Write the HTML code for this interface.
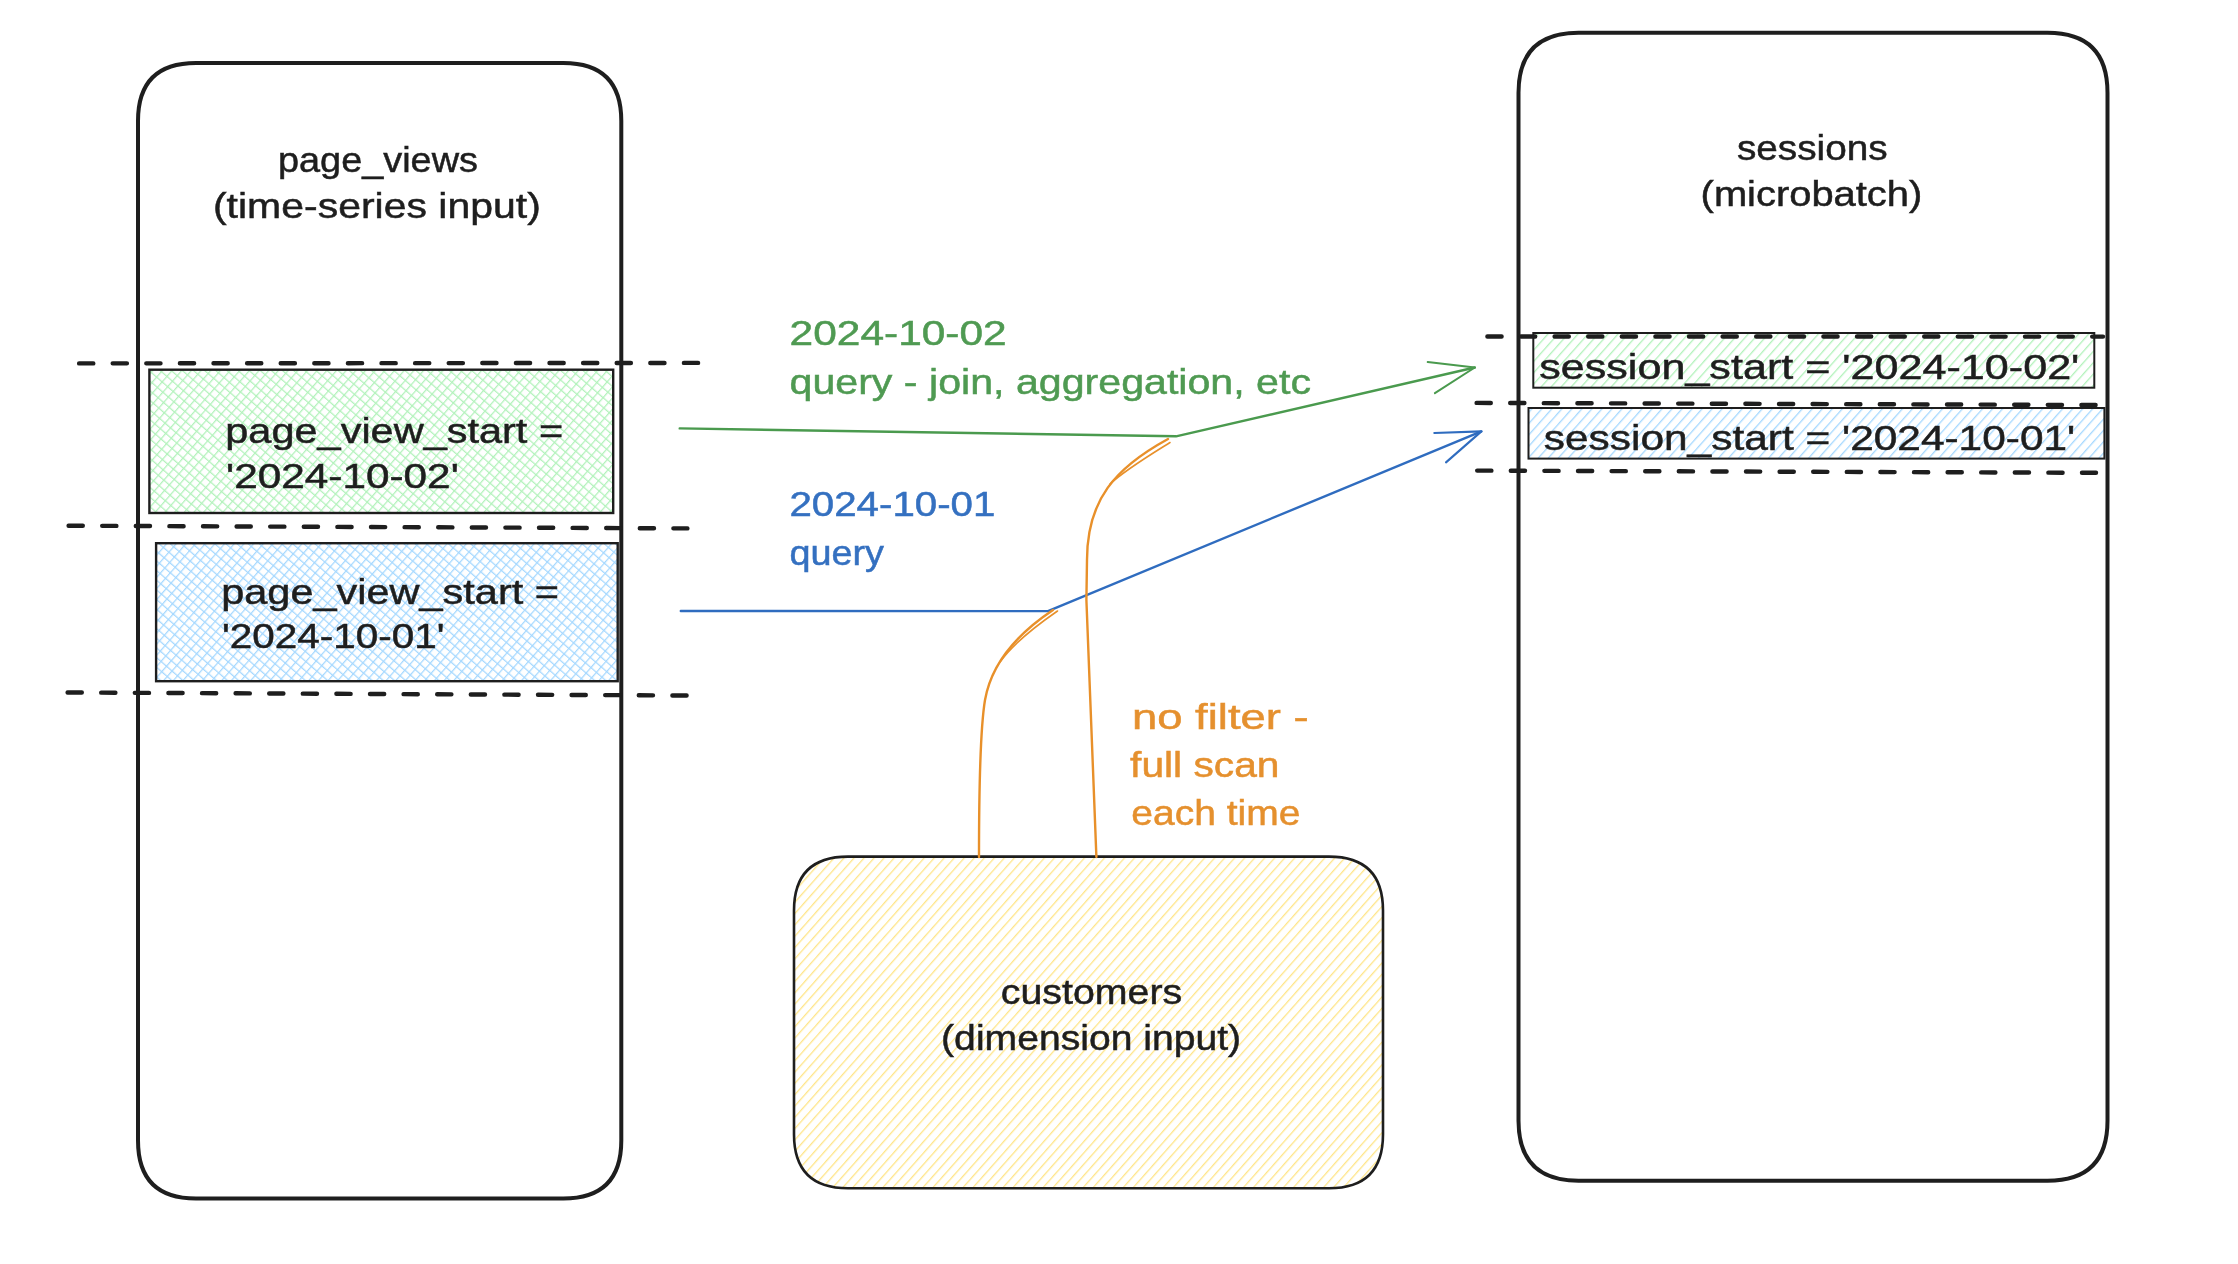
<!DOCTYPE html>
<html><head><meta charset="utf-8">
<style>
html,body{margin:0;padding:0;background:#fff;}
body{width:2238px;height:1264px;overflow:hidden;}
svg{display:block;}
text{font-family:"Liberation Sans",sans-serif;font-size:35.0px;stroke-width:0.5px;}
</style></head>
<body>
<svg width="2238" height="1264" viewBox="0 0 2238 1264">
<defs>
<pattern id="xg" width="7.3" height="7.3" patternUnits="userSpaceOnUse" patternTransform="rotate(-49)">
<rect x="0" y="0" width="7.3" height="1.25" fill="#b2f2bb"/><rect x="0" y="0" width="1.25" height="7.3" fill="#b2f2bb"/>
</pattern>
<pattern id="xb" width="7.3" height="7.3" patternUnits="userSpaceOnUse" patternTransform="rotate(-49)">
<rect x="0" y="0" width="7.3" height="1.25" fill="#a5d8ff"/><rect x="0" y="0" width="1.25" height="7.3" fill="#a5d8ff"/>
</pattern>
<pattern id="hg" width="7.5" height="7.5" patternUnits="userSpaceOnUse" patternTransform="rotate(-48.5)">
<rect x="0" y="0" width="7.5" height="1.3" fill="#b2f2bb"/>
</pattern>
<pattern id="hb" width="7.5" height="7.5" patternUnits="userSpaceOnUse" patternTransform="rotate(-48.5)">
<rect x="0" y="0" width="7.5" height="1.3" fill="#a5d8ff"/>
</pattern>
<pattern id="hy" width="7.5" height="7.5" patternUnits="userSpaceOnUse" patternTransform="rotate(-48.5)">
<rect x="0" y="0" width="7.5" height="1.3" fill="#ffe588"/>
</pattern>
</defs>

<!-- big boxes -->
<path d="M196.0 63.0 L563.3 63.0 Q621.3 63.0 621.3 121.0 L621.3 1140.5 Q621.3 1198.5 563.3 1198.5 L196.0 1198.5 Q138.0 1198.5 138.0 1140.5 L138.0 121.0 Q138.0 63.0 196.0 63.0 Z" fill="none" stroke="#1e1e1e" stroke-width="4"/>
<path d="M1578.5 32.7 L2047.5 32.7 Q2107.5 32.7 2107.5 92.7 L2107.5 1120.7 Q2107.5 1180.7 2047.5 1180.7 L1578.5 1180.7 Q1518.5 1180.7 1518.5 1120.7 L1518.5 92.7 Q1518.5 32.7 1578.5 32.7 Z" fill="none" stroke="#1e1e1e" stroke-width="4"/>
<path d="M848.0 856.6 L1329.0 856.6 Q1383.0 856.6 1383.0 910.6 L1383.0 1134.3 Q1383.0 1188.3 1329.0 1188.3 L848.0 1188.3 Q794.0 1188.3 794.0 1134.3 L794.0 910.6 Q794.0 856.6 848.0 856.6 Z" fill="url(#hy)" stroke="#1e1e1e" stroke-width="2.6"/>

<!-- small boxes -->
<rect x="149.4" y="369.7" width="463.8" height="143.3" fill="url(#xg)" stroke="#1e1e1e" stroke-width="2.4"/>
<rect x="156.1" y="543.2" width="461.6" height="138" fill="url(#xb)" stroke="#1e1e1e" stroke-width="2.4"/>
<rect x="1533.3" y="333" width="561" height="54.7" fill="url(#hg)" stroke="#1e1e1e" stroke-width="2"/>
<rect x="1528.5" y="408" width="575.9" height="50.6" fill="url(#hb)" stroke="#1e1e1e" stroke-width="2"/>

<!-- dashed lines -->
<g fill="none" stroke="#1e1e1e" stroke-width="4.4" stroke-linecap="round" stroke-dasharray="14.2 19.4">
<path d="M79.1 363.4 L698.5 362.9"/>
<path d="M68.6 525.7 L687.4 528.4"/>
<path d="M67.6 692.5 L686.8 695.5"/>
<path d="M1487.4 336.5 L2103 336.6"/>
<path d="M1476.6 402.9 L2096 405"/>
<path d="M1477.2 470.6 L2096 472.8"/>
</g>

<!-- arrows -->
<g fill="none" stroke-linecap="round" stroke-linejoin="round">
<path d="M679.7 428.4 L1176 436.3 L1474.8 367.5" stroke="#4a9a4e" stroke-width="2.4"/>
<path d="M1427.7 362.1 L1474.8 367.5 L1434.9 393.2" stroke="#4a9a4e" stroke-width="2"/>
<path d="M680.8 611 L1048 611.1 L1481.4 431.4" stroke="#2f6cbf" stroke-width="2.4"/>
<path d="M1434.3 433 L1481.4 431.4 L1446 462.4" stroke="#2f6cbf" stroke-width="2.1"/>
<path d="M1053 610 C1020 632 992 660 985 700 C980 730 979 800 979 857" stroke="#e8902a" stroke-width="2.4"/>
<path d="M1168 439 C1115 468 1087 500 1087 560 L1086.4 600 L1096.4 857" stroke="#e8902a" stroke-width="2.4"/>
<path d="M1170 442.5 C1150 455 1125 470 1110 484" stroke="#e8902a" stroke-width="1.6"/>
<path d="M1057.5 611 C1030 630 1010 648 1000 662" stroke="#e8902a" stroke-width="1.6"/>
</g>

<!-- texts -->
<g style="opacity:0.999">
<text transform="translate(278.00 172.20) scale(1.0821 1)" fill="#1e1e1e" stroke="#1e1e1e">page_views</text>
<text transform="translate(212.90 218.20) scale(1.1714 1)" fill="#1e1e1e" stroke="#1e1e1e">(time-series input)</text>
<text transform="translate(225.30 442.70) scale(1.1854 1)" fill="#1e1e1e" stroke="#1e1e1e">page_view_start =</text>
<text transform="translate(226.10 487.60) scale(1.2094 1)" fill="#1e1e1e" stroke="#1e1e1e">&#39;2024-10-02&#39;</text>
<text transform="translate(221.20 604.00) scale(1.1854 1)" fill="#1e1e1e" stroke="#1e1e1e">page_view_start =</text>
<text transform="translate(222.10 648.30) scale(1.1559 1)" fill="#1e1e1e" stroke="#1e1e1e">&#39;2024-10-01&#39;</text>
<text transform="translate(789.60 345.40) scale(1.2128 1)" fill="#4f9a52" stroke="#4f9a52">2024-10-02</text>
<text transform="translate(789.50 393.50) scale(1.1762 1)" fill="#4f9a52" stroke="#4f9a52">query - join, aggregation, etc</text>
<text transform="translate(789.40 516.10) scale(1.1509 1)" fill="#3470c0" stroke="#3470c0">2024-10-01</text>
<text transform="translate(789.40 564.80) scale(1.0799 1)" fill="#3470c0" stroke="#3470c0">query</text>
<text transform="translate(1736.90 160.20) scale(1.1071 1)" fill="#1e1e1e" stroke="#1e1e1e">sessions</text>
<text transform="translate(1700.60 205.90) scale(1.1402 1)" fill="#1e1e1e" stroke="#1e1e1e">(microbatch)</text>
<text transform="translate(1539.20 378.70) scale(1.2320 1)" fill="#1e1e1e" stroke="#1e1e1e">session_start = &#39;2024-10-02&#39;</text>
<text transform="translate(1543.80 449.50) scale(1.2126 1)" fill="#1e1e1e" stroke="#1e1e1e">session_start = &#39;2024-10-01&#39;</text>
<text transform="translate(1131.90 729.10) scale(1.2989 1)" fill="#e5902e" stroke="#e5902e">no filter -</text>
<text transform="translate(1130.10 777.10) scale(1.1641 1)" fill="#e5902e" stroke="#e5902e">full scan</text>
<text transform="translate(1131.30 825.20) scale(1.1142 1)" fill="#e5902e" stroke="#e5902e">each time</text>
<text transform="translate(1000.80 1004.00) scale(1.1234 1)" fill="#1e1e1e" stroke="#1e1e1e">customers</text>
<text transform="translate(941.10 1049.50) scale(1.1176 1)" fill="#1e1e1e" stroke="#1e1e1e">(dimension input)</text>
</g>
</svg>
</body></html>
